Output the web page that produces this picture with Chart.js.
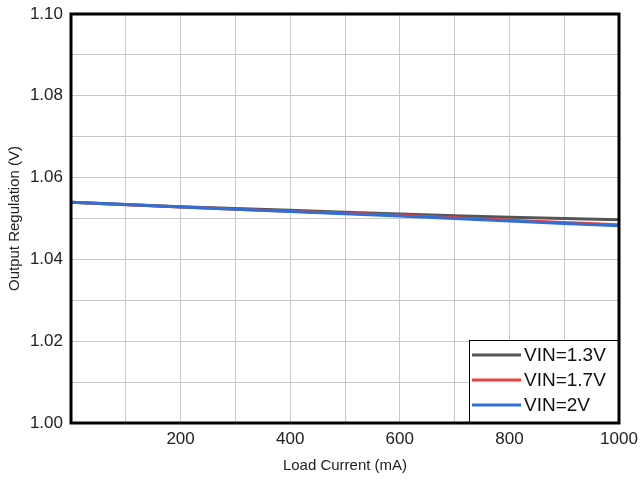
<!DOCTYPE html>
<html>
<head>
<meta charset="utf-8">
<script src="https://cdn.jsdelivr.net/npm/chart.js@4/dist/chart.umd.min.js"></script>
<style>
  html, body { margin: 0; padding: 0; background: #fff; }
  #wrap { width: 640px; height: 479px; }
</style>
</head>
<body>
<div id="wrap"><canvas id="chart"></canvas></div>
<script>
// Output regulation vs load current

const loadCurrent = [0, 200, 400, 600, 800, 1000];
const vin13 = [1.0540, 1.0529, 1.0520, 1.0511, 1.0503, 1.0497];
const vin17 = [1.0540, 1.0528, 1.0518, 1.0508, 1.0496, 1.0485];
const vin20 = [1.0540, 1.0528, 1.0517, 1.0506, 1.0494, 1.0482];
const seriesLabels = ['VIN=1.3V', 'VIN=1.7V', 'VIN=2V'];
const seriesColors = ['#555555', '#e8403f', '#2f6fd6'];

function toPoints(values) {
  return values.map((v, i) => ({ x: loadCurrent[i], y: v }));
}

const datasets = [vin13, vin17, vin20].map((values, i) => ({
  label: seriesLabels[i],
  data: toPoints(values),
  borderColor: seriesColors[i],
  backgroundColor: seriesColors[i],
  borderWidth: 3,
  pointRadius: 0,
  tension: 0.3,
  order: 3 - i,
}));

// frame around the plot area and the legend box inside it
const framePlugin = {
  id: 'frame',
  afterDraw(chart) {
    const { ctx, chartArea: a } = chart;
    ctx.save();

    // legend
    const boxW = 150;
    const boxH = 83;
    const bx = a.right - boxW;
    const by = a.bottom - boxH;
    ctx.fillStyle = '#fff';
    ctx.fillRect(bx, by, boxW, boxH);
    ctx.strokeStyle = '#000';
    ctx.lineWidth = 1;
    ctx.strokeRect(bx + 0.5, by + 0.5, boxW, boxH);
    ctx.font = '19px "Liberation Sans", Arial, sans-serif';
    ctx.textBaseline = 'middle';
    ctx.textAlign = 'left';
    seriesLabels.forEach((label, i) => {
      const y = by + 15 + i * 25;
      ctx.strokeStyle = seriesColors[i];
      ctx.lineWidth = 3;
      ctx.beginPath();
      ctx.moveTo(bx + 3, y);
      ctx.lineTo(bx + 52, y);
      ctx.stroke();
      ctx.fillStyle = '#111';
      ctx.fillText(label, bx + 55, y + 1);
    });

    ctx.strokeStyle = '#000';
    ctx.lineWidth = 3;
    ctx.strokeRect(a.left, a.top, a.right - a.left, a.bottom - a.top);
    ctx.restore();
  },
};

const ctx = document.getElementById('chart').getContext('2d');

// eslint-disable-next-line no-unused-vars
const chart = new Chart(ctx, {
  type: 'line',
  data: { datasets },
  options: {
    responsive: true,
    maintainAspectRatio: false,
    animation: false,
    layout: { padding: { top: 14, right: 21, left: 0, bottom: 4 } },
    plugins: {
      legend: { display: false },
      tooltip: { enabled: false },
    },
    scales: {
      x: {
        type: 'linear',
        min: 0,
        max: 1000,
        grid: { color: '#c8c8c8', lineWidth: 1, drawTicks: false },
        border: { display: false },
        ticks: {
          stepSize: 100,
          autoSkip: false,
          maxRotation: 0,
          padding: 6,
          color: '#222',
          font: { family: '"Liberation Sans", Arial, sans-serif', size: 17 },
          callback: (v) => (v > 0 && v % 200 === 0 ? String(v) : ''),
        },
        title: {
          display: true,
          text: 'Load Current (mA)',
          color: '#222',
          font: { family: '"Liberation Sans", Arial, sans-serif', size: 15 },
          padding: { top: 6, bottom: 0 },
        },
        afterFit(scale) {
          scale.height = 52;
          scale.paddingLeft = 0;
          scale.paddingRight = 0;
        },
      },
      y: {
        min: 1.0,
        max: 1.1,
        grid: { color: '#c8c8c8', lineWidth: 1, drawTicks: false },
        border: { display: false },
        ticks: {
          stepSize: 0.01,
          autoSkip: false,
          padding: 8,
          color: '#222',
          font: { family: '"Liberation Sans", Arial, sans-serif', size: 17 },
          callback: (v) => {
            const n = Math.round(v * 100);
            return n % 2 === 0 ? (n / 100).toFixed(2) : '';
          },
        },
        title: {
          display: true,
          text: 'Output Regulation (V)',
          color: '#222',
          font: { family: '"Liberation Sans", Arial, sans-serif', size: 15 },
          padding: { top: 6, bottom: 4 },
        },
        afterFit(scale) {
          scale.width = 71;
          scale.paddingTop = 0;
          scale.paddingBottom = 0;
        },
      },
    },
  },
  plugins: [framePlugin],
});
</script>
</body>
</html>
